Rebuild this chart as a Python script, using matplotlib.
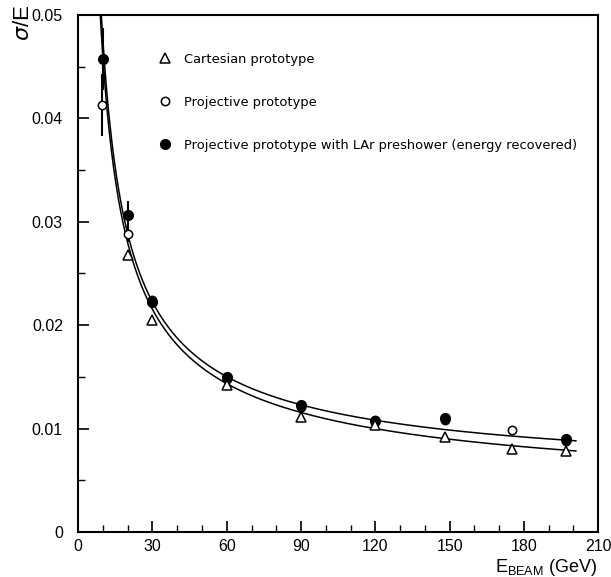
import numpy as np
import matplotlib
matplotlib.use("Agg")
import matplotlib.pyplot as plt
from matplotlib.lines import Line2D

# Data
e_cart = [20, 30, 60, 90, 120, 148, 175, 197]
res_cart = [0.0268, 0.0205, 0.0142, 0.0111, 0.0103, 0.0092, 0.0080, 0.0078]

e_proj = [9.6, 20, 30, 60, 90, 120, 148, 175, 197]
res_proj = [0.0413, 0.0288, 0.0224, 0.0148, 0.0121, 0.0108, 0.0108, 0.0099, 0.0088]
err_proj = [0.0030, 0.0008, 0.0004, 0.0002, 0.0002, 0.0002, 0.0002, 0.0002, 0.0002]

e_presh = [10, 20, 30, 60, 90, 120, 148, 197]
res_presh = [0.0457, 0.0307, 0.0222, 0.0150, 0.0123, 0.0107, 0.0110, 0.0090]
err_presh = [0.0030, 0.0013, 0.0005, 0.0003, 0.0002, 0.0004, 0.0003, 0.0002]

# fit parameters (stochastic, noise, constant)
fit_cart = (0.100, 0.33, 0.0030)
fit_proj = (0.100, 0.35, 0.0050)

labels = ['Cartesian prototype', 'Projective prototype',
          'Projective prototype with LAr preshower (energy recovered)']
x_ticks = [0, 30, 60, 90, 120, 150, 180, 210]
y_ticks = [0, 0.01, 0.02, 0.03, 0.04, 0.05]
y_ticklabels = ["0", "0.01", "0.02", "0.03", "0.04", "0.05"]

plt.rcParams['font.family'] = ['Liberation Sans', 'DejaVu Sans']

fig = plt.figure(figsize=(6.11, 5.77), dpi=100)
ax = fig.add_axes([0.128, 0.078, 0.851, 0.896])

def curve(p, E):
    a, b, c = p
    return np.sqrt(a**2 / E + b**2 / E**2 + c**2)

E = np.linspace(8.5, 201, 600)
ax.plot(E, curve(fit_cart, E), color='black', lw=1.1)
ax.plot(E, curve(fit_proj, E), color='black', lw=1.1)

ax.errorbar(e_proj, res_proj, yerr=err_proj, fmt='o', mfc='white', mec='black',
            color='black', ms=6, mew=1.1, elinewidth=1.5, capsize=0, zorder=3)
ax.errorbar(e_presh, res_presh, yerr=err_presh, fmt='o', mfc='black', mec='black',
            color='black', ms=7, elinewidth=1.5, capsize=0, zorder=4)
ax.plot(e_cart, res_cart, '^', mfc='white', mec='black', ms=7, mew=1.1,
        linestyle='none', zorder=5)

ax.set_xlim(0, 210)
ax.set_ylim(0, 0.05)
ax.set_xticks(x_ticks)
ax.set_xticks(np.arange(0, 211, 10), minor=True)
ax.set_yticks(y_ticks)
ax.set_yticklabels(y_ticklabels)
ax.set_yticks(np.arange(0, 0.0501, 0.005), minor=True)
ax.tick_params(which='both', direction='in', top=False, right=False, labelsize=11.5)
ax.tick_params(which='major', length=8, width=1.2)
ax.tick_params(which='minor', length=5, width=1.0)
ax.tick_params(axis='x', pad=5)
ax.tick_params(axis='y', pad=11)
for s in ax.spines.values():
    s.set_linewidth(1.5)

handles = [
    Line2D([], [], marker='^', mfc='white', mec='black', ms=7, mew=1.1, linestyle='none'),
    Line2D([], [], marker='o', mfc='white', mec='black', ms=6, mew=1.1, linestyle='none'),
    Line2D([], [], marker='o', mfc='black', mec='black', ms=7, linestyle='none'),
]
ax.legend(handles, labels, loc='upper left', bbox_to_anchor=(0.13, 0.95), frameon=False,
          prop={'family': 'DejaVu Sans', 'size': 9.4}, labelspacing=2.3,
          handlelength=1.2, handletextpad=0.8)

fig.text(0.022, 0.992, r'$\sigma$/E', rotation=90, ha='left', va='top', fontsize=16)
fig.text(0.977, 0.016, r'E$_{\mathregular{BEAM}}$ (GeV)', ha='right', va='center', fontsize=13)

fig.savefig('out.png', dpi=100)
